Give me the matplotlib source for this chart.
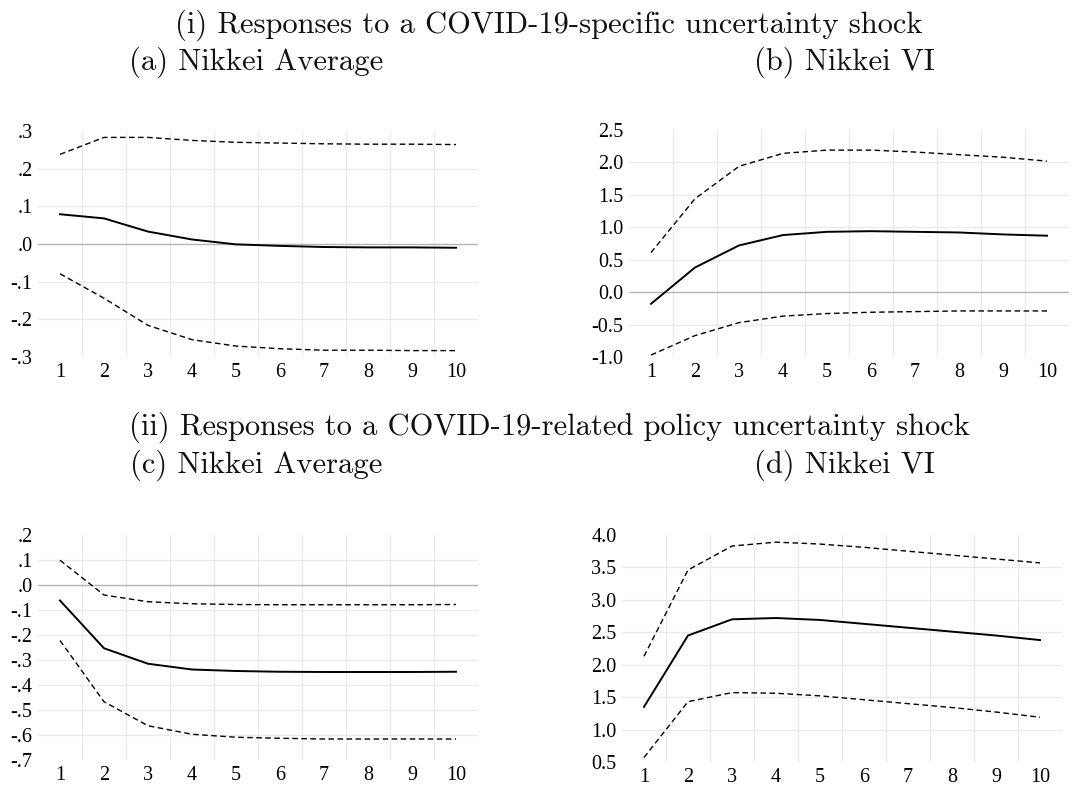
import numpy as np
import matplotlib
matplotlib.use('Agg')
import matplotlib.pyplot as plt
from matplotlib.ticker import FuncFormatter

# horizon (periods after the shock)
periods = np.arange(1, 11)

# (a) Nikkei Average, COVID-19-specific uncertainty shock
a_mean = [0.079, 0.068, 0.033, 0.012, -0.001, -0.005, -0.008, -0.009, -0.009, -0.010]
a_upper = [0.238, 0.283, 0.283, 0.275, 0.270, 0.268, 0.266, 0.265, 0.265, 0.264]
a_lower = [-0.079, -0.144, -0.216, -0.254, -0.271, -0.278, -0.282, -0.282, -0.283, -0.283]

# (b) Nikkei VI, COVID-19-specific uncertainty shock
b_mean = [-0.18, 0.38, 0.72, 0.88, 0.93, 0.94, 0.93, 0.92, 0.89, 0.87]
b_upper = [0.61, 1.44, 1.94, 2.14, 2.19, 2.19, 2.16, 2.12, 2.08, 2.02]
b_lower = [-0.97, -0.67, -0.47, -0.37, -0.33, -0.31, -0.30, -0.29, -0.29, -0.29]

# (c) Nikkei Average, policy uncertainty shock
c_mean = [-0.062, -0.253, -0.315, -0.338, -0.344, -0.347, -0.348, -0.348, -0.348, -0.347]
c_upper = [0.099, -0.040, -0.067, -0.075, -0.078, -0.079, -0.079, -0.079, -0.079, -0.078]
c_lower = [-0.222, -0.467, -0.563, -0.597, -0.609, -0.613, -0.616, -0.616, -0.616, -0.616]

# (d) Nikkei VI, policy uncertainty shock
d_mean = [1.35, 2.45, 2.70, 2.72, 2.69, 2.63, 2.57, 2.51, 2.45, 2.38]
d_upper = [2.13, 3.46, 3.83, 3.89, 3.86, 3.81, 3.75, 3.69, 3.63, 3.57]
d_lower = [0.57, 1.43, 1.57, 1.56, 1.52, 1.46, 1.40, 1.34, 1.27, 1.19]

a_ticks = [-0.3, -0.2, -0.1, 0.0, 0.1, 0.2, 0.3]
b_ticks = [-1.0, -0.5, 0.0, 0.5, 1.0, 1.5, 2.0, 2.5]
c_ticks = [-0.7, -0.6, -0.5, -0.4, -0.3, -0.2, -0.1, 0.0, 0.1, 0.2]
d_ticks = [0.5, 1.0, 1.5, 2.0, 2.5, 3.0, 3.5, 4.0]

main_titles = ['(i) Responses to a COVID-19-specific uncertainty shock',
               '(ii) Responses to a COVID-19-related policy uncertainty shock']
panel_titles = ['(a) Nikkei Average', '(b) Nikkei VI', '(c) Nikkei Average', '(d) Nikkei VI']

W, H = 1079, 787
fig = plt.figure(figsize=(W / 100, H / 100), dpi=100)


def px_axes(left, right, top, bottom):
    return fig.add_axes([left / W, 1 - bottom / H, (right - left) / W, (bottom - top) / H])


def short_fmt(v, pos):
    s = '%.1f' % v
    if s.startswith('0.'):
        s = s[1:]
    elif s.startswith('-0.'):
        s = '-' + s[2:]
    return s


def long_fmt(v, pos):
    return '%.1f' % v


def draw_panel(ax, mean, upper, lower, ticks, fmt):
    ax.set_xlim(0.5, 10.5)
    ax.set_ylim(ticks[0], ticks[-1])
    for x in np.arange(1.5, 10.5, 1.0):
        ax.axvline(x, color='#ebebeb', lw=1.0, zorder=0)
    for y in ticks[1:-1]:
        if abs(y) < 1e-9:
            ax.axhline(y, color='#b5b5b5', lw=1.0, zorder=1)
        else:
            ax.axhline(y, color='#ebebeb', lw=1.0, zorder=0)
    ax.plot(periods, mean, color='black', lw=1.4, zorder=3)
    ax.plot(periods, upper, color='black', lw=1.0, ls=(0, (4, 2.5)), zorder=3)
    ax.plot(periods, lower, color='black', lw=1.0, ls=(0, (4, 2.5)), zorder=3)
    ax.set_xticks(periods)
    ax.set_yticks(ticks)
    ax.yaxis.set_major_formatter(FuncFormatter(fmt))
    for s in ax.spines.values():
        s.set_visible(False)
    ax.tick_params(length=0, labelsize=14.5, pad=4)
    for lab in ax.get_xticklabels() + ax.get_yticklabels():
        lab.set_fontfamily('Liberation Serif')


ax_a = px_axes(38, 478, 131, 357)
draw_panel(ax_a, a_mean, a_upper, a_lower, a_ticks, short_fmt)
ax_b = px_axes(629, 1069, 130, 357)
draw_panel(ax_b, b_mean, b_upper, b_lower, b_ticks, long_fmt)
ax_c = px_axes(38, 478, 535, 760)
draw_panel(ax_c, c_mean, c_upper, c_lower, c_ticks, short_fmt)
ax_d = px_axes(622, 1062, 535, 762)
draw_panel(ax_d, d_mean, d_upper, d_lower, d_ticks, long_fmt)

tkw = dict(fontfamily='cmr10', fontsize=22, ha='center', va='center', color='#111111')
fig.text(549 / W, 1 - 25 / H, main_titles[0], **tkw)
fig.text(256 / W, 1 - 62 / H, panel_titles[0], **tkw)
fig.text(844 / W, 1 - 62 / H, panel_titles[1], **tkw)
fig.text(549 / W, 1 - 427 / H, main_titles[1], **tkw)
fig.text(256 / W, 1 - 465 / H, panel_titles[2], **tkw)
fig.text(844 / W, 1 - 465 / H, panel_titles[3], **tkw)

fig.savefig('out.png', dpi=100, facecolor='white')
